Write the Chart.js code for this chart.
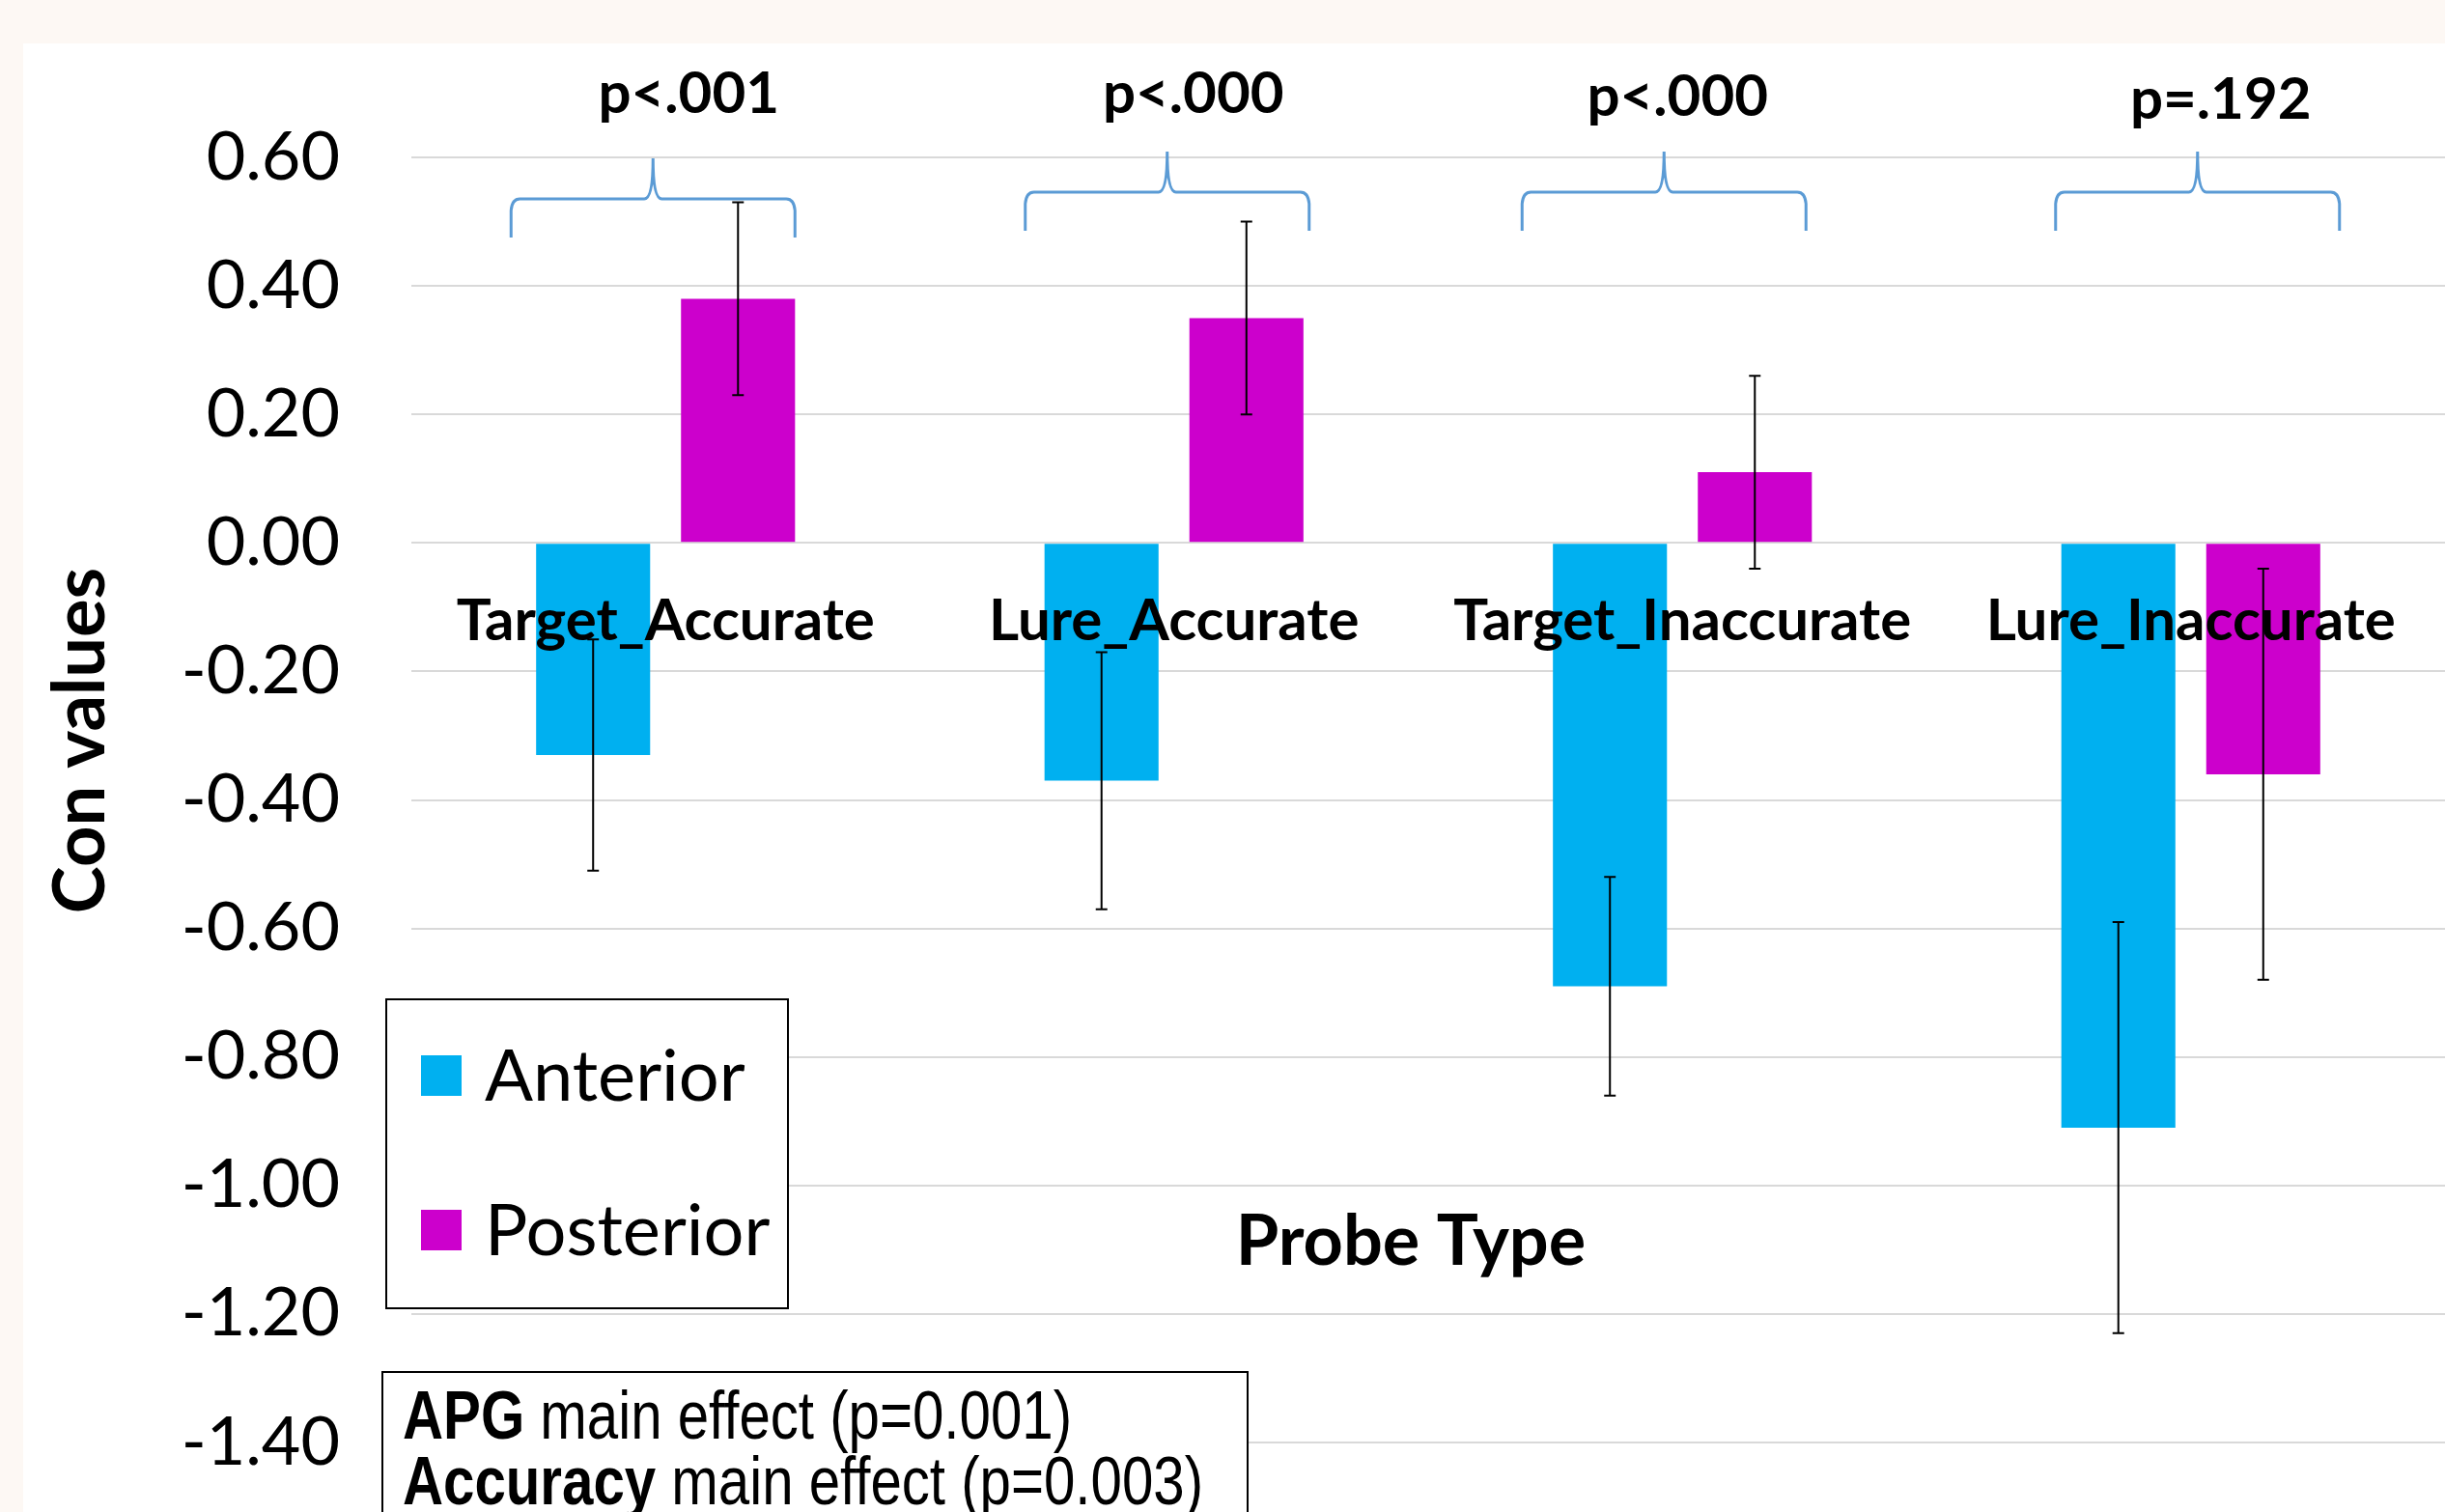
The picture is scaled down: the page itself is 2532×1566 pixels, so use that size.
<!DOCTYPE html>
<html>
<head>
<meta charset="utf-8">
<title>Con values by probe type</title>
<script src="https://cdn.jsdelivr.net/npm/chart.js@4.4.1/dist/chart.umd.min.js"></script>
<style>
    html, body { margin: 0; padding: 0; background: #fdf8f4; }
    #chart { display: block; }
</style>
</head>
<body>
<canvas id="chart" width="2532" height="1566"></canvas>
<script>
/* ── Data ─────────────────────────────────────────────────────── */
const categories     = ['Target_Accurate', 'Lure_Accurate', 'Target_Inaccurate', 'Lure_Inaccurate'];
const anterior       = [-0.33, -0.37, -0.69, -0.91];
const posterior      = [0.38, 0.35, 0.11, -0.36];
const anteriorErr    = [0.18, 0.20, 0.17, 0.32];
const posteriorErr   = [0.15, 0.15, 0.15, 0.32];
const pLabels        = ['p<.001', 'p<.000', 'p<.000', 'p=.192'];
const yTicks         = [0.6, 0.4, 0.2, 0, -0.2, -0.4, -0.6, -0.8, -1.0, -1.2, -1.4];

// annotation nudges (px)
const braceShift = [-13, -7, -19, 7];
const braceDy    = [7, 0, 0, 0];
const pShift     = [24, 20, -5, 31];
const pDy        = [0, 0, 3, 6];

const BLUE    = '#00b0f0';
const MAGENTA = '#cc00cc';
const FONT    = 'Lato, "Open Sans", sans-serif';

/* ── Helpers ──────────────────────────────────────────────────── */
function hasFont(name) {
    const c = document.createElement('canvas').getContext('2d');
    const probe = 'APG main effect (p=0.001)';
    c.font = '40px monospace';
    const a = c.measureText(probe).width;
    c.font = '40px "' + name + '", monospace';
    return c.measureText(probe).width !== a;
}
const narrowOk = hasFont('Liberation Sans Narrow');

function drawBrace(ctx, x0, x1, cx, yH, tip, peak) {
    ctx.beginPath();
    ctx.moveTo(x0, tip);
    ctx.lineTo(x0, yH + 12);
    ctx.quadraticCurveTo(x0 + 1, yH, x0 + 9, yH);
    ctx.lineTo(cx - 9, yH);
    ctx.quadraticCurveTo(cx, yH, cx, peak);
    ctx.quadraticCurveTo(cx, yH, cx + 9, yH);
    ctx.lineTo(x1 - 9, yH);
    ctx.quadraticCurveTo(x1 - 1, yH, x1, yH + 12);
    ctx.lineTo(x1, tip);
    ctx.stroke();
}

// mixed bold / regular line, narrow Arial look
function drawNarrowLine(ctx, x, y, boldPart, rest, size) {
    ctx.save();
    ctx.translate(x, y);
    let fam = '"Liberation Sans Narrow", "Arial Narrow", sans-serif';
    if (!narrowOk) { ctx.scale(0.82, 1); fam = '"Liberation Sans", Arial, sans-serif'; }
    ctx.textAlign = 'left';
    ctx.textBaseline = 'alphabetic';
    ctx.fillStyle = '#000';
    ctx.font = 'bold ' + size + 'px ' + fam;
    ctx.fillText(boldPart, 0, 0);
    const w = ctx.measureText(boldPart).width;
    ctx.font = size + 'px ' + fam;
    ctx.fillText(rest, w, 0);
    ctx.restore();
}

/* ── Plugins ──────────────────────────────────────────────────── */
const backdrop = {
    id: 'backdrop',
    beforeDraw(chart) {
        const ctx = chart.ctx;
        ctx.save();
        ctx.fillStyle = '#fdf8f4';
        ctx.fillRect(0, 0, chart.width, chart.height);
        ctx.fillStyle = '#ffffff';
        ctx.fillRect(24, 45, chart.width - 24, chart.height - 45);
        ctx.restore();
    }
};

const errorBars = {
    id: 'errorBars',
    afterDatasetsDraw(chart) {
        const ctx = chart.ctx;
        const y = chart.scales.y;
        const errs = [anteriorErr, posteriorErr];
        ctx.save();
        ctx.strokeStyle = '#000';
        ctx.lineWidth = 2;
        chart.data.datasets.forEach((ds, i) => {
            chart.getDatasetMeta(i).data.forEach((bar, j) => {
                const v = ds.data[j], e = errs[i][j];
                const top = y.getPixelForValue(v + e);
                const bot = y.getPixelForValue(v - e);
                ctx.beginPath();
                ctx.moveTo(bar.x, top); ctx.lineTo(bar.x, bot);
                ctx.moveTo(bar.x - 6, top); ctx.lineTo(bar.x + 6, top);
                ctx.moveTo(bar.x - 6, bot); ctx.lineTo(bar.x + 6, bot);
                ctx.stroke();
            });
        });

        // category labels sit just under the zero line, over the bars
        const x = chart.scales.x;
        const y0 = y.getPixelForValue(0);
        ctx.fillStyle = '#000';
        ctx.font = 'bold 60px ' + FONT;
        ctx.textAlign = 'center';
        ctx.textBaseline = 'alphabetic';
        categories.forEach((c, i) => ctx.fillText(c, x.getPixelForValue(i), y0 + 101));
        ctx.restore();
    }
};

const annotations = {
    id: 'annotations',
    afterDraw(chart) {
        const ctx = chart.ctx;
        const x = chart.scales.x;
        ctx.save();

        // ── Braces + p values
        ctx.strokeStyle = '#5b9bd5';
        ctx.lineWidth = 3;
        categories.forEach((c, i) => {
            const cx = x.getPixelForValue(i) + braceShift[i];
            const dy = braceDy[i];
            drawBrace(ctx, cx - 147, cx + 147, cx, 199 + dy, 239 + dy, 157 + dy);
        });
        ctx.fillStyle = '#000';
        ctx.font = 'bold 60px ' + FONT;
        ctx.textAlign = 'center';
        ctx.textBaseline = 'alphabetic';
        pLabels.forEach((p, i) => ctx.fillText(p, x.getPixelForValue(i) + pShift[i], 117 + pDy[i]));

        // ── Axis titles
        ctx.font = 'bold 72px ' + FONT;
        ctx.textBaseline = 'middle';
        ctx.fillText('Probe Type', 1461, 1287);
        ctx.save();
        ctx.translate(84, 767);
        ctx.rotate(-Math.PI / 2);
        ctx.font = 'bold 74px ' + FONT;
        ctx.fillText('Con values', 0, 0);
        ctx.restore();

        // ── Legend box
        ctx.fillStyle = '#fff';
        ctx.fillRect(400, 1035, 416, 320);
        ctx.strokeStyle = '#000';
        ctx.lineWidth = 2;
        ctx.strokeRect(400, 1035, 416, 320);
        ctx.font = '74px ' + FONT;
        ctx.textAlign = 'left';
        ctx.textBaseline = 'middle';
        chart.data.datasets.forEach((ds, i) => {
            const cy = 1114 + i * 160;
            ctx.fillStyle = ds.backgroundColor;
            ctx.fillRect(436, cy - 21, 42, 42);
            ctx.fillStyle = '#000';
            ctx.fillText(ds.label, 502, cy + 2);
        });

        // ── Main-effect text box
        ctx.fillStyle = '#fff';
        ctx.fillRect(396, 1421, 896, 160);
        ctx.strokeRect(396, 1421, 896, 160);
        drawNarrowLine(ctx, 417, 1490, 'APG', ' main effect (p=0.001)', 71);
        drawNarrowLine(ctx, 417, 1558, 'Accuracy', ' main effect (p=0.003)', 71);

        ctx.restore();
    }
};

/* ── Chart ────────────────────────────────────────────────────── */
Chart.defaults.font.family = FONT;
Chart.defaults.color = '#000';

new Chart(document.getElementById('chart'), {
    type: 'bar',
    data: {
        labels: categories,
        datasets: [
            { label: 'Anterior',  data: anterior,  backgroundColor: BLUE },
            { label: 'Posterior', data: posterior, backgroundColor: MAGENTA }
        ]
    },
    options: {
        responsive: false,
        animation: false,
        devicePixelRatio: 1,
        categoryPercentage: 0.57,
        barPercentage: 0.787,
        layout: { padding: { left: 0, right: 0, top: 163, bottom: 72 } },
        plugins: {
            legend: { display: false },
            tooltip: { enabled: false }
        },
        scales: {
            x: { display: false },
            y: {
                min: -1.4,
                max: 0.6,
                afterFit: s => {
                    s.width = 426;
                    // tick padding is only meant horizontally here
                    s.paddingTop = 0;
                    s.paddingBottom = 0;
                },
                afterBuildTicks: s => { s.ticks = yTicks.map(v => ({ value: v })); },
                border: { display: false },
                grid: { color: '#d9d9d9', lineWidth: 2, drawTicks: false },
                ticks: {
                    padding: 74,
                    font: { size: 70 },
                    color: '#000',
                    callback: v => Number(v).toFixed(2)
                }
            }
        }
    },
    plugins: [backdrop, errorBars, annotations]
});
</script>
</body>
</html>
